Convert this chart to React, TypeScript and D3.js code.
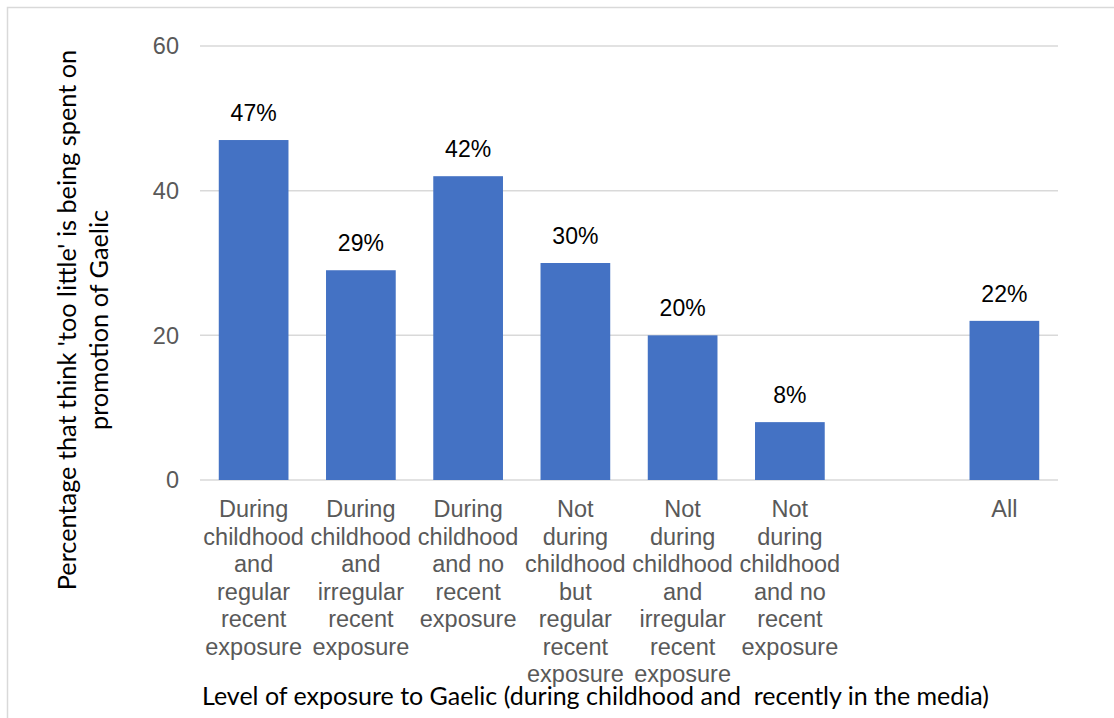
import React from "react";
import * as d3 from "d3";

const categories: string[][] = [
  ["During", "childhood", "and", "regular", "recent", "exposure"],
  ["During", "childhood", "and", "irregular", "recent", "exposure"],
  ["During", "childhood", "and no", "recent", "exposure"],
  ["Not", "during", "childhood", "but", "regular", "recent", "exposure"],
  ["Not", "during", "childhood", "and", "irregular", "recent", "exposure"],
  ["Not", "during", "childhood", "and no", "recent", "exposure"],
  [],
  ["All"],
];
const values: (number | null)[] = [47, 29, 42, 30, 20, 8, null, 22];
const yTicks = [0, 20, 40, 60];
const xTitle = "Level of exposure to Gaelic (during childhood and  recently in the media)";
const yTitle = ["Percentage that think 'too little' is being spent on", "promotion of Gaelic"];

const W = 1114;
const H = 718;
const left = 200;
const right = 1058;
const top = 46;
const bottom = 480;

export default function App() {
  const x = d3
    .scaleBand<number>()
    .domain(categories.map((_, i) => i))
    .range([left, right])
    .paddingInner(0.35)
    .paddingOuter(0.175);
  const y = d3.scaleLinear().domain([0, 60]).range([bottom, top]);
  const band = (right - left) / categories.length;
  const sans = "'Liberation Sans', Arial, sans-serif";
  const titleFont = "Lato, 'Open Sans', sans-serif";

  return (
    <svg
      width={W}
      height={H}
      style={{ position: "absolute", left: 0, top: 0, background: "#fff" }}
    >
      <rect x={7.5} y={7.5} width={W + 20} height={H + 20} fill="#fff" stroke="#d9d9d9" strokeWidth={1.5} />
      {yTicks.map((t) => (
        <g key={t}>
          <line x1={left} x2={right} y1={y(t)} y2={y(t)} stroke="#d9d9d9" strokeWidth={1.5} />
          <text
            x={179}
            y={y(t)}
            dy="0.35em"
            textAnchor="end"
            fontFamily={sans}
            fontSize={23.5}
            fill="#595959"
          >
            {t}
          </text>
        </g>
      ))}
      {values.map((v, i) =>
        v == null ? null : (
          <g key={i}>
            <rect
              x={x(i)!}
              y={y(v)}
              width={x.bandwidth()}
              height={y(0) - y(v)}
              fill="#4472c4"
            />
            <text
              x={x(i)! + x.bandwidth() / 2}
              y={y(v) - 19}
              textAnchor="middle"
              fontFamily={sans}
              fontSize={23}
              fill="#000"
            >
              {v}%
            </text>
          </g>
        )
      )}
      {categories.map((lines, i) => (
        <text
          key={i}
          x={left + band * (i + 0.5)}
          y={517}
          textAnchor="middle"
          fontFamily={sans}
          fontSize={23.5}
          fill="#595959"
        >
          {lines.map((l, j) => (
            <tspan key={j} x={left + band * (i + 0.5)} dy={j === 0 ? 0 : 27.5}>
              {l}
            </tspan>
          ))}
        </text>
      ))}
      <text
        x={595.5}
        y={705}
        textAnchor="middle"
        fontFamily={titleFont}
        fontSize={25}
        fill="#000"
        style={{ whiteSpace: "pre" }}
      >
        {xTitle}
      </text>
      {yTitle.map((t, i) => (
        <text
          key={i}
          transform={`translate(${76 + i * 32},320) rotate(-90)`}
          textAnchor="middle"
          fontFamily={titleFont}
          fontSize={25.3}
          fill="#000"
        >
          {t}
        </text>
      ))}
    </svg>
  );
}
